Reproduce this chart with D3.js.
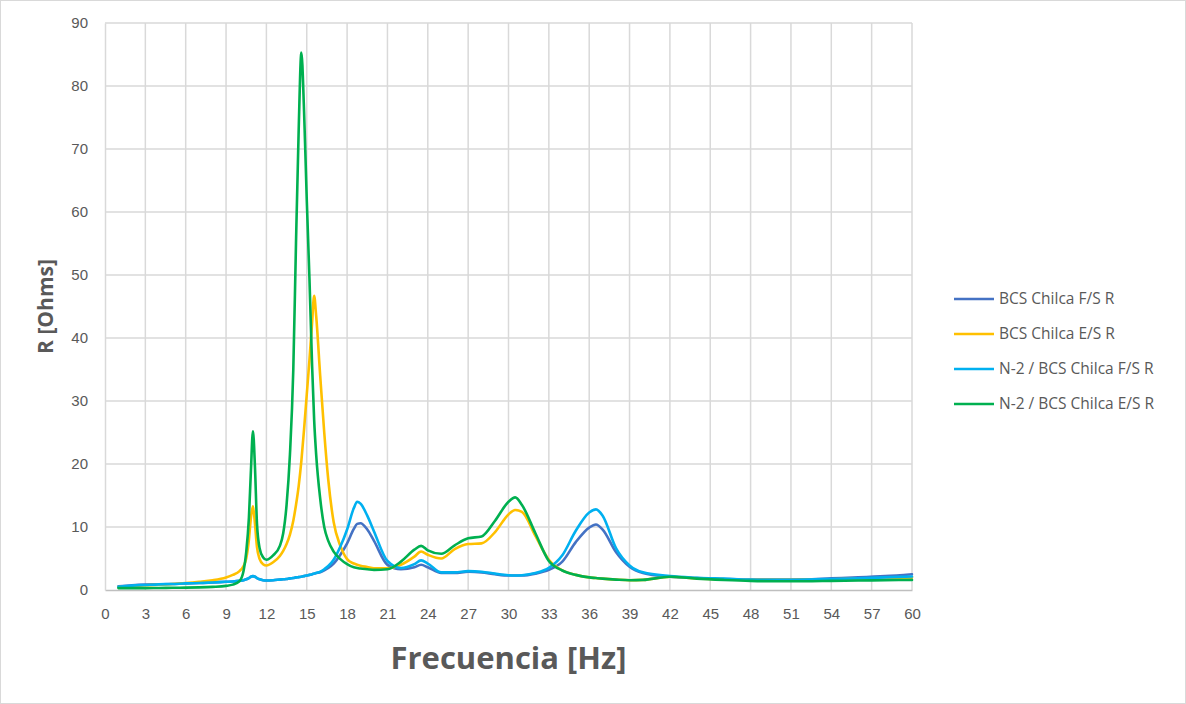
<!DOCTYPE html>
<html><head><meta charset="utf-8">
<script src="https://cdn.jsdelivr.net/npm/d3@7/dist/d3.min.js"></script>
<style>
html,body{margin:0;padding:0;background:#fff;}
svg{display:block;font-family:"Open Sans","Liberation Sans",sans-serif;}
</style></head><body>
<svg id="chart" width="1186" height="704"></svg>
<script>
const freq = [1,2,3,4,5,6,7,8,9,9.5,10,10.3,10.5,10.7,10.85,11,11.15,11.3,11.5,11.75,12,12.5,13,13.25,13.5,13.75,14,14.2,14.4,14.6,14.8,15,15.2,15.4,15.55,15.7,16,16.3,16.6,17,17.5,18,18.5,18.75,19,19.5,20,21,22,23,23.5,24,25,26,27,28,29,30,30.5,31,32,33,34,35,36,36.5,37,38,39,40,42,44,46,48,50,52,54,56,58,60];

const bcsFS = [0.6,0.75,0.85,0.9,0.95,1.05,1.1,1.2,1.3,1.35,1.45,1.55,1.7,1.9,2.1,2.2,2.1,1.9,1.7,1.55,1.5,1.55,1.65,1.7,1.75,1.85,1.9,2.0,2.05,2.1,2.2,2.3,2.4,2.5,2.6,2.7,2.8,3.1,3.5,4.2,5.6,7.4,9.7,10.5,10.6,9.6,7.8,4.0,3.3,3.6,4.0,3.6,2.7,2.7,2.9,2.8,2.5,2.3,2.3,2.3,2.6,3.2,4.5,7.6,9.9,10.4,9.6,6.0,3.7,2.7,2.1,1.9,1.75,1.65,1.65,1.7,1.85,2.0,2.2,2.5];

const bcsES = [0.45,0.6,0.75,0.85,0.95,1.1,1.3,1.55,2.0,2.4,3.0,3.8,5.0,8.0,11.5,13.3,10.5,6.8,4.9,4.1,3.9,4.4,5.4,6.2,7.3,8.8,11.0,13.5,16.5,20.5,25.5,31.0,36.5,42.5,46.7,43.5,34.0,25.0,17.5,10.8,7.0,4.9,4.2,4.0,3.85,3.65,3.45,3.45,4.0,5.3,6.1,5.6,5.0,6.5,7.3,7.4,9.2,12.0,12.7,12.4,8.6,4.8,3.1,2.4,2.0,1.9,1.8,1.65,1.55,1.6,2.1,1.85,1.7,1.6,1.6,1.65,1.7,1.8,1.9,2.0];

const n2FS = [0.5,0.7,0.8,0.9,0.95,1.05,1.1,1.2,1.3,1.35,1.45,1.55,1.7,1.9,2.1,2.2,2.1,1.9,1.7,1.55,1.5,1.55,1.65,1.7,1.75,1.85,1.9,2.0,2.05,2.1,2.2,2.3,2.4,2.5,2.6,2.7,2.9,3.3,3.8,4.8,6.9,9.6,13.0,14.0,13.7,11.8,9.3,4.6,3.5,4.1,4.7,4.2,2.8,2.8,3.0,2.9,2.6,2.35,2.3,2.35,2.7,3.5,5.5,9.4,12.3,12.8,11.8,6.6,3.9,2.8,2.2,1.95,1.8,1.65,1.6,1.65,1.75,1.85,2.0,2.15];

const n2ES = [0.3,0.3,0.3,0.32,0.35,0.38,0.42,0.5,0.65,0.85,1.4,3.0,6.0,11.5,19.0,25.2,19.5,10.5,6.6,5.2,4.8,5.5,7.0,9.0,13.5,21.5,35.0,55.0,73.0,85.3,76.0,62.0,49.5,35.5,27.0,21.5,14.5,10.0,7.8,6.1,4.9,4.1,3.6,3.5,3.4,3.3,3.2,3.3,4.5,6.4,7.0,6.3,5.75,7.1,8.2,8.5,11.0,14.0,14.7,13.5,9.0,4.6,3.1,2.4,2.0,1.9,1.8,1.65,1.55,1.6,2.1,1.8,1.6,1.45,1.4,1.4,1.45,1.5,1.55,1.6];

const seriesNames = ["BCS Chilca F/S R","BCS Chilca E/S R","N-2 / BCS Chilca F/S R","N-2 / BCS Chilca E/S R"];
const seriesValues = [bcsFS, bcsES, n2FS, n2ES];
const seriesColors = ["#4472C4","#FFC000","#00B0F0","#00B050"];
const xTicks = d3.range(0, 61, 3);
const yTicks = d3.range(0, 91, 10);

const svg = d3.select("#chart");
const W = 1186, H = 704;
const m = {left:105, right:1186-912, top:23, bottom:704-590};

svg.append("rect").attr("x",0.5).attr("y",0.5).attr("width",W-1).attr("height",H-1)
  .attr("fill","#fff").attr("stroke","#d9d9d9");

const x = d3.scaleLinear().domain([0,60]).range([m.left, W-m.right]);
const y = d3.scaleLinear().domain([0,90]).range([H-m.bottom, m.top]);

// gridlines
const g = svg.append("g");
g.selectAll("line.v").data(xTicks.filter(d=>d>0)).join("line")
  .attr("x1",d=>x(d)).attr("x2",d=>x(d)).attr("y1",y(0)).attr("y2",y(90))
  .attr("stroke","#d9d9d9").attr("stroke-width",1.5);
g.selectAll("line.h").data(yTicks.filter(d=>d>0)).join("line")
  .attr("x1",x(0)).attr("x2",x(60)).attr("y1",d=>y(d)).attr("y2",d=>y(d))
  .attr("stroke","#d9d9d9").attr("stroke-width",1.5);

// axes
const xAxis = d3.axisBottom(x).tickValues(xTicks).tickSize(0).tickPadding(18);
const gx = svg.append("g").attr("transform",`translate(0,${y(0)})`).call(xAxis);
gx.select(".domain").attr("stroke","#bfbfbf").attr("stroke-width",1.5);
gx.selectAll("text").attr("fill","#595959").style("font-size","15px");

const yAxis = d3.axisLeft(y).tickValues(yTicks).tickSize(0).tickPadding(17);
const gy = svg.append("g").attr("transform",`translate(${x(0)},0)`).call(yAxis);
gy.select(".domain").attr("stroke","#d9d9d9").attr("stroke-width",1.5);
gy.selectAll("text").attr("fill","#595959").style("font-size","15px");

// lines
const line = d3.line().curve(d3.curveMonotoneX);
seriesValues.forEach((vals,i)=>{
  const pts = freq.map((f,j)=>[x(f), y(vals[j])]);
  svg.append("path").attr("d", line(pts)).attr("fill","none")
    .attr("stroke",seriesColors[i]).attr("stroke-width",2.6)
    .attr("stroke-linejoin","round").attr("stroke-linecap","round");
});

// titles
svg.append("text").attr("x",(x(0)+x(60))/2).attr("y",669).attr("text-anchor","middle")
  .attr("fill","#595959").style("font-size","31px").style("font-weight","bold")
  .text("Frecuencia [Hz]");
svg.append("text").attr("transform",`translate(53,${(y(0)+y(90))/2}) rotate(-90)`)
  .attr("text-anchor","middle").attr("fill","#595959")
  .style("font-size","21px").style("font-weight","bold").text("R [Ohms]");

// legend
const lg = svg.append("g");
seriesNames.forEach((name,i)=>{
  const ly = 299 + i*35;
  lg.append("line").attr("x1",954).attr("x2",994).attr("y1",ly).attr("y2",ly)
    .attr("stroke",seriesColors[i]).attr("stroke-width",2.6);
  lg.append("text").attr("x",999).attr("y",ly+5).attr("fill","#595959")
    .style("font-size","15.5px").text(name);
});
</script>
</body></html>
